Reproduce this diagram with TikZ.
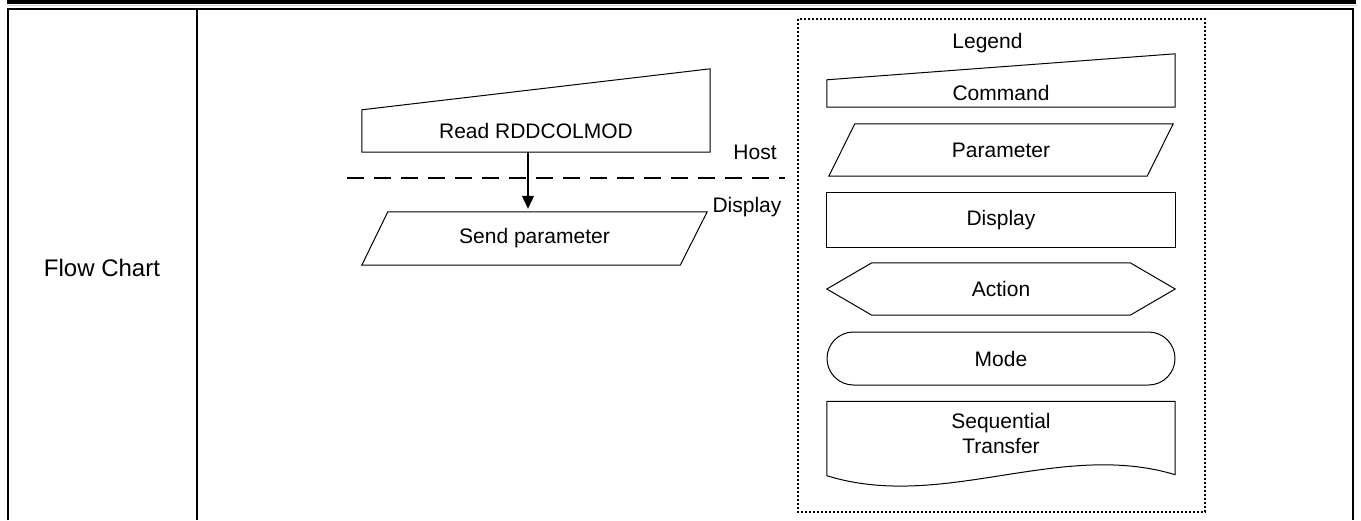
\documentclass[tikz,border=0pt]{standalone}
\usepackage{fontspec}
\setmainfont{Liberation Sans}
\usetikzlibrary{arrows.meta}

\begin{document}
\begin{tikzpicture}[x=1pt,y=-1pt,
        txt/.style={font=\fontsize{21}{25}\selectfont, inner sep=0pt},
        shapebox/.style={txt, minimum width=348pt, minimum height=53pt},
        outline/.style={line width=1pt, line join=miter},
        frame/.style={line width=2pt},
        hostline/.style={line width=1.5pt, dash pattern=on 17pt off 10pt},
        legendbox/.style={line width=2pt, dash pattern=on 2pt off 2pt}]
        \useasboundingbox (0,0) rectangle (1361,520);
        % header band and table frame
        \fill (7,0) rectangle (1356,4);
        \draw[gray!35, line width=1pt] (7,5) -- (1356,5);
        \draw[frame] (8,520) -- (8,9) -- (1353,9) -- (1353,520);
        \draw[frame] (197,9) -- (197,520);
        \node[txt, font=\fontsize{24}{28}\selectfont] (title) at (102,268) {Flow Chart};
        % command and parameter
        \node[shapebox, minimum height=83pt, text height=69pt, text depth=14pt] (read) at (536,110.5) {Read RDDCOLMOD};
        \draw[outline] (read.south west) -- (read.south east) -- (read.north east) -- ([yshift=-41pt]read.north west) -- cycle;
        \node[shapebox, minimum width=345pt] (send) at (534.5,238.5) {Send parameter};
        \draw[outline] ([xshift=26pt]send.north west) -- (send.north east) -- ([xshift=-27pt]send.south east) -- (send.south west) -- cycle;
        \draw[-{Triangle[length=13pt,width=12pt]}, line width=1.1pt, shorten >=3pt]
            ([xshift=-8pt]read.south) -- ([xshift=-8pt]read.south |- send.north);
        % host / display boundary
        \coordinate (sepL) at (347,178);
        \coordinate (sepR) at (785,178);
        \draw[hostline] (sepL) -- (sepR);
        \node[txt, anchor=base] (host) at (755,159) {Host};
        \node[txt, anchor=base] (disp) at (747,212) {Display};
        % legend
        \draw[legendbox] (798,19) rectangle (1205,512);
        \node[txt, anchor=base] (legend) at (987.5,48) {Legend};
        \node[shapebox, text height=46pt, text depth=7pt] (lcmd) at (1001,80.5) {Command};
        \draw[outline] (lcmd.south west) -- (lcmd.south east) -- (lcmd.north east) -- ([yshift=-26pt]lcmd.north west) -- cycle;
        \node[shapebox, minimum width=344pt, minimum height=52pt] (lpar) at (1001,150) {Parameter};
        \draw[outline] ([xshift=26pt]lpar.north west) -- (lpar.north east) -- ([xshift=-26pt]lpar.south east) -- (lpar.south west) -- cycle;
        \node[shapebox, minimum height=54pt] (ldisp) at (1001,220) {Display};
        \draw[outline] (ldisp.south west) rectangle (ldisp.north east);
        \node[shapebox, minimum height=52pt] (lact) at (1001,289) {Action};
        \draw[outline] (lact.west) -- ([xshift=45pt]lact.north west) -- ([xshift=-45pt]lact.north east) -- (lact.east)
            -- ([xshift=-45pt]lact.south east) -- ([xshift=45pt]lact.south west) -- cycle;
        \node[shapebox, draw, outline, rounded corners=26.5pt] (lmode) at (1001,358.5) {Mode};
        \node[shapebox, minimum height=64pt, align=center] (lseq) at (1001,433.5) {Sequential\\Transfer};
        \draw[outline] ([yshift=-10pt]lseq.south west) -- (lseq.north west) -- (lseq.north east) -- ([yshift=-9pt]lseq.south east)
            .. controls +(-116,-35) and +(116,36) .. ([yshift=-10pt]lseq.south west);
\end{tikzpicture}
\end{document}
